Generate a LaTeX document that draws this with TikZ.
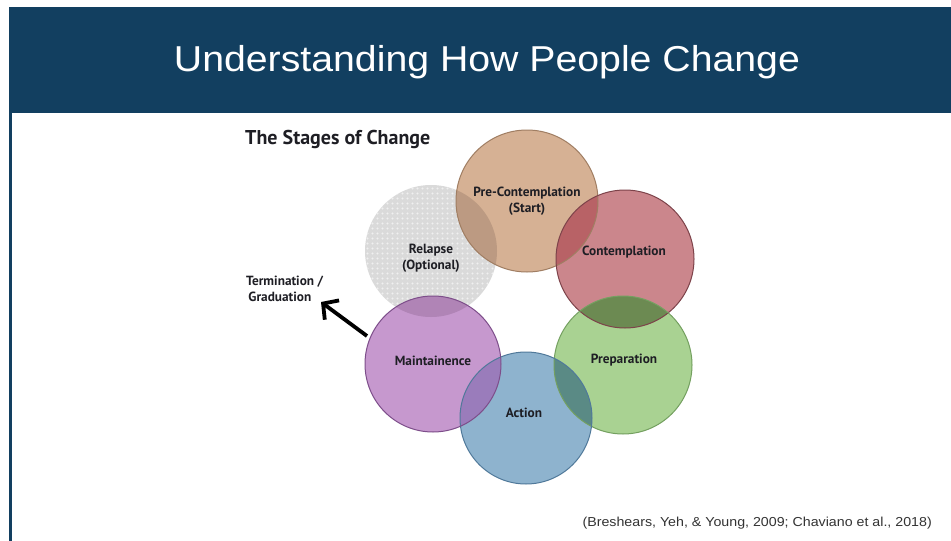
\documentclass[tikz,border=0pt]{standalone}
\usepackage{fontspec}
\usepackage{graphicx}
\setmainfont{Liberation Sans}
\newfontfamily\lab{PT Sans}
\usetikzlibrary{arrows.meta,patterns}
\pgfdeclarepatternformonly{reldots}{\pgfpoint{-1pt}{-1pt}}{\pgfpoint{6pt}{6pt}}{\pgfpoint{5pt}{5pt}}{\pgfpathcircle{\pgfpoint{2.5pt}{2.5pt}}{1.1pt}\pgfusepath{fill}}
\definecolor{hdr}{HTML}{123F60}
\definecolor{preF}{HTML}{D6B194}
\definecolor{preD}{HTML}{A07E63}
\definecolor{conF}{HTML}{CB868C}
\definecolor{conD}{HTML}{7D434A}
\definecolor{prpF}{HTML}{A9D292}
\definecolor{prpD}{HTML}{74A060}
\definecolor{actF}{HTML}{8EB3CE}
\definecolor{actD}{HTML}{50799A}
\definecolor{mntF}{HTML}{C698CE}
\definecolor{mntD}{HTML}{7D4E8A}
\definecolor{relF}{HTML}{DADADA}
\definecolor{ovRP}{HTML}{BC9A82}
\definecolor{ovPC}{HTML}{B86266}
\definecolor{ovCR}{HTML}{6C8A52}
\definecolor{ovRA}{HTML}{5A8A85}
\definecolor{ovAM}{HTML}{9A7CBB}
\definecolor{ovMR}{HTML}{B084B6}
\definecolor{txt}{HTML}{1E1E24}
\tikzset{
  stage/.style={circle, inner sep=0pt, line width=1pt},
  lbl/.style={font=\lab\bfseries\fontsize{13.3}{16}\selectfont, text=txt, align=left, inner sep=0pt},
}
\begin{document}
\begin{tikzpicture}[x=1pt,y=-1pt]
\useasboundingbox (0,0) rectangle (951,541);
\fill[white] (0,0) rectangle (951,541);
% header
\fill[hdr] (9,7) rectangle (951,113);
\fill[hdr] (9,113) rectangle (11.5,541);
\node[text=white, font=\fontsize{36}{40}\selectfont, inner sep=0pt] (title) at (487,62) {\scalebox{1.09}[1]{Understanding How People Change}};
% heading
\node[font=\lab\bfseries\fontsize{20}{24}\selectfont, text=txt, anchor=west, inner sep=0pt] (head) at (245,139) {The Stages of Change};
% circle fills
\node[stage, minimum size=132pt, fill=relF] (rel) at (431,251) {};
\fill[pattern=reldots, pattern color=white!60!relF] (rel.center) circle[radius=66pt];
\node[stage, minimum size=142pt, fill=preF] (pre) at (527,201) {};
\node[stage, minimum size=138pt, fill=conF] (con) at (625,259) {};
\node[stage, minimum size=138pt, fill=prpF] (prp) at (623,365) {};
\node[stage, minimum size=132pt, fill=actF] (act) at (526,418) {};
\node[stage, minimum size=136pt, fill=mntF] (mnt) at (433,364) {};
% overlaps
\begin{scope}\clip (rel.center) circle[radius=66pt]; \fill[ovRP] (pre.center) circle[radius=71pt];\end{scope}
\begin{scope}\clip (pre.center) circle[radius=71pt]; \fill[ovPC] (con.center) circle[radius=69pt];\end{scope}
\begin{scope}\clip (con.center) circle[radius=69pt]; \fill[ovCR] (prp.center) circle[radius=69pt];\end{scope}
\begin{scope}\clip (prp.center) circle[radius=69pt]; \fill[ovRA] (act.center) circle[radius=66pt];\end{scope}
\begin{scope}\clip (act.center) circle[radius=66pt]; \fill[ovAM] (mnt.center) circle[radius=68pt];\end{scope}
\begin{scope}\clip (mnt.center) circle[radius=68pt]; \fill[ovMR] (rel.center) circle[radius=66pt];\end{scope}
% borders
\draw[preD, line width=1pt] (pre.center) circle[radius=71pt];
\draw[conD, line width=1pt] (con.center) circle[radius=69pt];
\draw[prpD, line width=1pt] (prp.center) circle[radius=69pt];
\draw[actD, line width=1pt] (act.center) circle[radius=66pt];
\draw[mntD, line width=1pt] (mnt.center) circle[radius=68pt];
% labels
\node[lbl, align=center] (preL) at (527,201) {Pre-Contemplation\\(Start)};
\node[lbl] (conL) at (624,252) {Contemplation};
\node[lbl] (prpL) at (624,360) {Preparation};
\node[lbl] (actL) at (524,413) {Action};
\node[lbl] (mntL) at (433,361) {Maintainence};
\node[lbl, align=center] (relL) at (431,258) {Relapse\\(Optional)};
\node[lbl, anchor=north west] (term) at (246,276) {Termination /\\\,Graduation};
\coordinate (tail) at (367,336);
\coordinate (tip) at (321,302);
\draw[line width=3.8pt, -{Straight Barb[length=11pt,width=24pt,line width=3.8pt]}] (tail) -- (tip);
% citation
\node[font=\fontsize{13}{15}\selectfont, text=black!80, anchor=east, inner sep=0pt] (cite) at (932,523) {\scalebox{1.094}[1]{(Breshears, Yeh, \& Young, 2009; Chaviano et al., 2018)}};
\end{tikzpicture}
\end{document}
